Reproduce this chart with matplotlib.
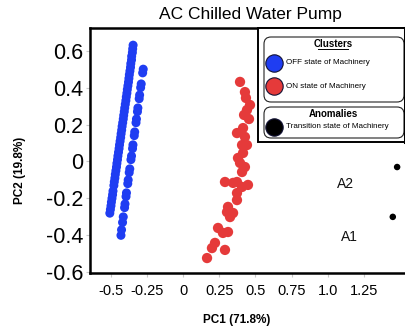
import matplotlib.pyplot as plt
from matplotlib.patches import Rectangle, FancyBboxPatch

plt.rcParams['font.family'] = ['Liberation Sans', 'DejaVu Sans']

# cluster 1 (blue) - two parallel strands
blue_a_x = [-0.345, -0.348, -0.350, -0.355, -0.356, -0.361, -0.363, -0.367, -0.371, -0.374,
            -0.377, -0.381, -0.385, -0.388, -0.392, -0.395, -0.399, -0.403, -0.406, -0.410,
            -0.413, -0.417, -0.421, -0.424, -0.428, -0.431, -0.435, -0.439, -0.442, -0.446,
            -0.450, -0.453, -0.457, -0.460, -0.464, -0.468, -0.471, -0.475, -0.478, -0.484,
            -0.487, -0.491, -0.495, -0.498, -0.502, -0.506]
blue_a_y = [0.63, 0.61, 0.59, 0.57, 0.55, 0.53, 0.51, 0.49, 0.47, 0.45,
            0.43, 0.41, 0.39, 0.37, 0.35, 0.33, 0.31, 0.29, 0.27, 0.25,
            0.23, 0.21, 0.19, 0.17, 0.15, 0.13, 0.11, 0.09, 0.07, 0.05,
            0.03, 0.01, -0.01, -0.03, -0.05, -0.07, -0.09, -0.11, -0.13, -0.16,
            -0.18, -0.20, -0.22, -0.24, -0.26, -0.28]
blue_b_x = [-0.275, -0.279, -0.289, -0.293, -0.300, -0.303, -0.312, -0.315, -0.322, -0.325,
            -0.334, -0.337, -0.346, -0.349, -0.356, -0.360, -0.368, -0.372, -0.379, -0.382,
            -0.391, -0.394, -0.401, -0.404, -0.413, -0.418, -0.425, -0.429]
blue_b_y = [0.50, 0.48, 0.42, 0.40, 0.36, 0.34, 0.29, 0.27, 0.23, 0.21,
            0.16, 0.14, 0.09, 0.07, 0.03, 0.01, -0.04, -0.06, -0.10, -0.12,
            -0.17, -0.19, -0.23, -0.25, -0.30, -0.33, -0.37, -0.40]

# cluster 2 (red)
red_x = [0.394, 0.428, 0.435, 0.463, 0.442, 0.422, 0.456, 0.415, 0.373, 0.428,
         0.408, 0.442, 0.415, 0.380, 0.394, 0.428, 0.408, 0.290, 0.346, 0.373,
         0.449, 0.408, 0.373, 0.373, 0.311, 0.304, 0.346, 0.325, 0.242, 0.276,
         0.311, 0.221, 0.290, 0.200, 0.166]
red_y = [0.431, 0.376, 0.344, 0.306, 0.279, 0.252, 0.230, 0.181, 0.154, 0.133,
         0.089, 0.089, 0.046, 0.019, -0.008, -0.030, -0.057, -0.111, -0.116, -0.111,
         -0.127, -0.138, -0.171, -0.209, -0.246, -0.274, -0.279, -0.301, -0.360, -0.387,
         -0.382, -0.441, -0.479, -0.469, -0.523]

# anomalies
anom_x = [1.48, 1.45]
anom_y = [-0.03, -0.30]
anom_names = ['A2', 'A1']
anom_label_x = [1.12, 1.15]
anom_label_y = [-0.12, -0.41]

xticks = [-0.5, -0.25, 0, 0.25, 0.5, 0.75, 1.0, 1.25]
xtick_labels = ['-0.5', '-0.25', '0', '0.25', '0.5', '0.75', '1.0', '1.25']
yticks = [-0.6, -0.4, -0.2, 0, 0.2, 0.4, 0.6]
ytick_labels = ['-0.6', '-0.4', '-0.2', '0', '0.2', '0.4', '0.6']

W, H = 406, 332
fig = plt.figure(figsize=(W / 100, H / 100), dpi=100)
ax = fig.add_axes([90 / W, (H - 273) / H, (410 - 90) / W, (273 - 28) / H])

blue = '#1f3df2'
red = '#e53a3a'
ax.scatter(blue_a_x, blue_a_y, s=42, color=blue, edgecolors='none')
ax.scatter(blue_b_x, blue_b_y, s=42, color=blue, edgecolors='none')
ax.scatter(red_x, red_y, s=55, color=red, edgecolors='none')
ax.scatter(anom_x, anom_y, s=22, color='black', edgecolors='none')
for nx, ny, nm in zip(anom_label_x, anom_label_y, anom_names):
    ax.text(nx, ny, nm, fontsize=10, ha='center', va='center', color='#111111')

ax.set_xlim(-0.643, 1.569)
ax.set_ylim(-0.604, 0.723)
ax.set_xticks(xticks)
ax.set_xticklabels(xtick_labels, fontsize=10.5)
ax.set_yticks(yticks)
ax.set_yticklabels(ytick_labels, fontsize=15.5)
ax.tick_params(axis='both', color='#c8c8c8', length=3, width=0.8)
ax.tick_params(axis='x', pad=5)
ax.tick_params(axis='y', pad=2)
for sp in ax.spines.values():
    sp.set_linewidth(1.8)

fig.text(250 / W, 1 - 14 / H, 'AC Chilled Water Pump', fontsize=12.5, ha='center', va='center')
fig.text(237 / W, 1 - 320 / H, 'PC1 (71.8%)', fontsize=8.5, fontweight='bold', ha='center', va='center')
fig.text(20 / W, 1 - 170 / H, 'PC2 (19.8%)', fontsize=8.5, fontweight='bold', ha='center', va='center',
         rotation=90)

# legend drawn by hand in pixel space
lg = fig.add_axes([0, 0, 1, 1], zorder=5)
lg.set_xlim(0, W)
lg.set_ylim(H, 0)
lg.axis('off')
lg.add_patch(Rectangle((258, 28), 150, 114, facecolor='white', edgecolor='black', lw=1.4))
lg.plot([405, 405], [28, 142], color='black', lw=2.2)
lg.add_patch(FancyBboxPatch((264, 37), 140, 65, boxstyle='round,pad=0,rounding_size=7',
                            facecolor='none', edgecolor='#222222', lw=0.8))
lg.add_patch(FancyBboxPatch((264, 107), 140, 31, boxstyle='round,pad=0,rounding_size=7',
                            facecolor='none', edgecolor='#222222', lw=0.8))
lg.text(333, 44, 'Clusters', fontsize=7, fontweight='bold', ha='center', va='center')
lg.plot([318, 348], [49, 49], color='black', lw=0.7)
lg.text(333, 114, 'Anomalies', fontsize=7, fontweight='bold', ha='center', va='center')

legend_items = [('OFF state of Machinery', blue, 63),
                ('ON state of Machinery', red, 86),
                ('Transition state of Machinery', 'black', 127)]
for txt, col, yy in legend_items:
    lg.plot([274], [yy], 'o', ms=12.5, color=col, mec='#111133', mew=0.8)
    lg.text(286, yy, txt, fontsize=5.8, ha='left', va='center')

fig.savefig('out.png', dpi=100)
